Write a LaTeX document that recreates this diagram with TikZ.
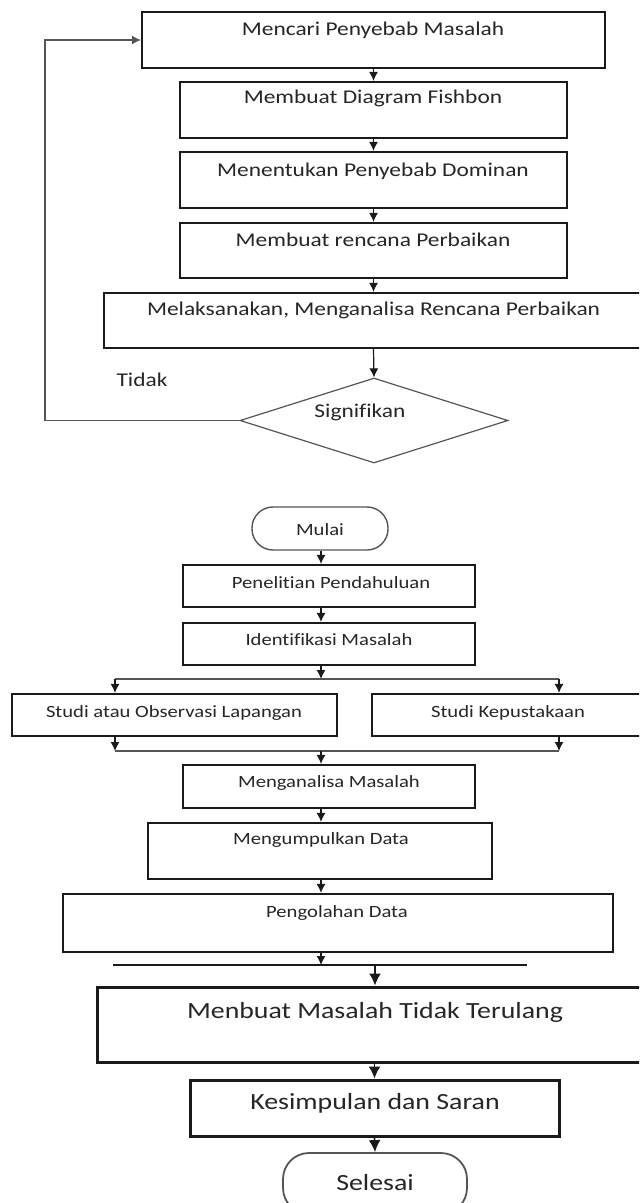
\documentclass[tikz,border=0pt]{standalone}
\usepackage{fontspec}
\setmainfont{Carlito}[FakeStretch=1.2,Ligatures={NoCommon}]
\usetikzlibrary{fit,shapes.geometric,arrows.meta}
\definecolor{ink}{HTML}{1A1A1A}
\definecolor{txt}{HTML}{262626}
\definecolor{gline}{HTML}{555555}
\begin{document}
\begin{tikzpicture}[x=0.5pt,y=-0.5pt,
  box/.style={draw=ink,line width=1.1pt,inner sep=0pt},
  boxb/.style={draw=ink,line width=1.5pt,inner sep=0pt},
  term/.style={draw=gline,line width=0.7pt,inner sep=0pt},
  ttop/.style={text=txt,font=\fontsize{9.75}{11}\selectfont,inner sep=0pt},
  tbot/.style={text=txt,font=\fontsize{8.6}{10}\selectfont,inner sep=0pt},
  tbig/.style={text=txt,font=\fontsize{11.6}{13}\selectfont,inner sep=0pt},
  arr/.style={draw=ink,line width=0.6pt,-{Latex[length=4.5pt,width=4.5pt]}},
  arrb/.style={draw=ink,line width=0.8pt,-{Latex[length=6pt,width=6pt]}},
  conn/.style={draw=gline,line width=0.6pt}]
\useasboundingbox (0,0) rectangle (639,1203);
\fill[white] (0,0) rectangle (639,1203);
\clip (0,0) rectangle (639,1203);

% ---------- upper flow ----------
\node[box,fit={(142,12) (605,68)}] (b1) {};
\node[ttop] (t1) at (373,30) {Mencari Penyebab Masalah};
\node[box,fit={(180,82) (567,138)}] (b2) {};
\node[ttop] (t2) at (373,98) {Membuat Diagram Fishbon};
\node[box,fit={(180,152) (567,208)}] (b3) {};
\node[ttop] (t3) at (373,171) {Menentukan Penyebab Dominan};
\node[box,fit={(180,223) (567,278)}] (b4) {};
\node[ttop] (t4) at (373,240) {Membuat rencana Perbaikan};
\node[box,fit={(104,293) (643,348)}] (b5) {};
\node[ttop] (t5) at (373.5,310) {Melaksanakan, Menganalisa Rencana Perbaikan};
\node[diamond,draw=gline,line width=0.6pt,minimum width=134pt,minimum height=42.5pt,inner sep=0pt] (sig) at (374,420.5) {};
\node[ttop] (tsig) at (360,412) {Signifikan};
\node[ttop] (tidak) at (142,380) {Tidak};

\draw[arr] (b1.south -| b2.north) -- (b2.north);
\draw[arr] (b2.south) -- (b3.north);
\draw[arr] (b3.south) -- (b4.north);
\draw[arr] (b4.south) -- (b4.south |- b5.north);
\draw[arr] (b4.south |- b5.south) -- (sig.north);
\coordinate (lp) at (45,40);
\draw[conn,-{Latex[length=4.5pt,width=4.5pt]}] (sig.west) -- (sig.west -| lp) -- (lp) -- (b1.west);

% ---------- lower flow ----------
\node[term,rounded corners=10.5pt,fit={(252,507) (388,550)}] (mulai) {};
\node[tbot] (tm) at (320,530) {Mulai};
\node[box,fit={(183,565) (475,607)}] (pen) {};
\node[tbot] (tpen) at (331,583) {Penelitian Pendahuluan};
\node[box,fit={(183,623) (475,665)}] (ide) {};
\node[tbot] (tide) at (329,640) {Identifikasi Masalah};
\node[box,fit={(12,694) (337,736)}] (obs) {};
\node[tbot] (tobs) at (174,713) {Studi atau Observasi Lapangan};
\node[box,fit={(372,694) (645,736)}] (kep) {};
\node[tbot] (tkep) at (508,713) {Studi Kepustakaan};
\node[box,fit={(183,765) (475,808)}] (ana) {};
\node[tbot] (tana) at (329,783) {Menganalisa Masalah};
\node[box,fit={(148,823) (492,879)}] (kum) {};
\node[tbot] (tkum) at (321,840) {Mengumpulkan Data};
\node[box,fit={(63,894) (613,952)}] (olah) {};
\node[tbot] (tolah) at (337,913) {Pengolahan Data};
\node[boxb,fit={(97,987) (653,1062)}] (ulang) {};
\node[tbig] (tulang) at (375,1012) {Menbuat Masalah Tidak Terulang};
\node[boxb,fit={(190,1080) (559,1136)}] (kes) {};
\node[tbig] (tkes) at (375,1103) {Kesimpulan dan Saran};
\node[term,line width=0.9pt,rounded corners=13pt,fit={(283,1153) (467,1214)}] (sel) {};
\node[tbig] (tsel) at (375,1183) {Selesai};

\coordinate (sp) at (321,679);
\coordinate (spL) at (115,679);
\coordinate (spR) at (559,679);
\coordinate (mg) at (321,751);
\coordinate (mgL) at (115,751);
\coordinate (mgR) at (559,751);
\coordinate (ct) at (321,965);
\coordinate (ctL) at (113,965);
\coordinate (ctR) at (527,965);
\coordinate (ct2) at (375,965);

\draw[arr] (mulai.south -| sp) -- (sp |- pen.north);
\draw[arr] (pen.south -| sp) -- (sp |- ide.north);
\draw[arr] (ide.south -| sp) -- (sp);
\draw[conn] (spL) -- (spR);
\draw[arr] (spL) -- (spL |- obs.north);
\draw[arr] (spR) -- (spR |- kep.north);
\draw[arr] (mgL |- obs.south) -- (mgL);
\draw[arr] (mgR |- kep.south) -- (mgR);
\draw[conn] (mgL) -- (mgR);
\draw[arr] (mg) -- (mg |- ana.north);
\draw[arr] (ana.south -| mg) -- (mg |- kum.north);
\draw[arr] (kum.south -| mg) -- (mg |- olah.north);
\draw[arr] (olah.south -| ct) -- (ct);
\draw[draw=ink,line width=0.6pt] (ctL) -- (ctR);
\draw[arrb] (ct2) -- (ct2 |- ulang.north);
\draw[arrb] (ulang.south -| kes.north) -- (kes.north);
\draw[arrb] (kes.south) -- (sel.north);
\end{tikzpicture}
\end{document}
